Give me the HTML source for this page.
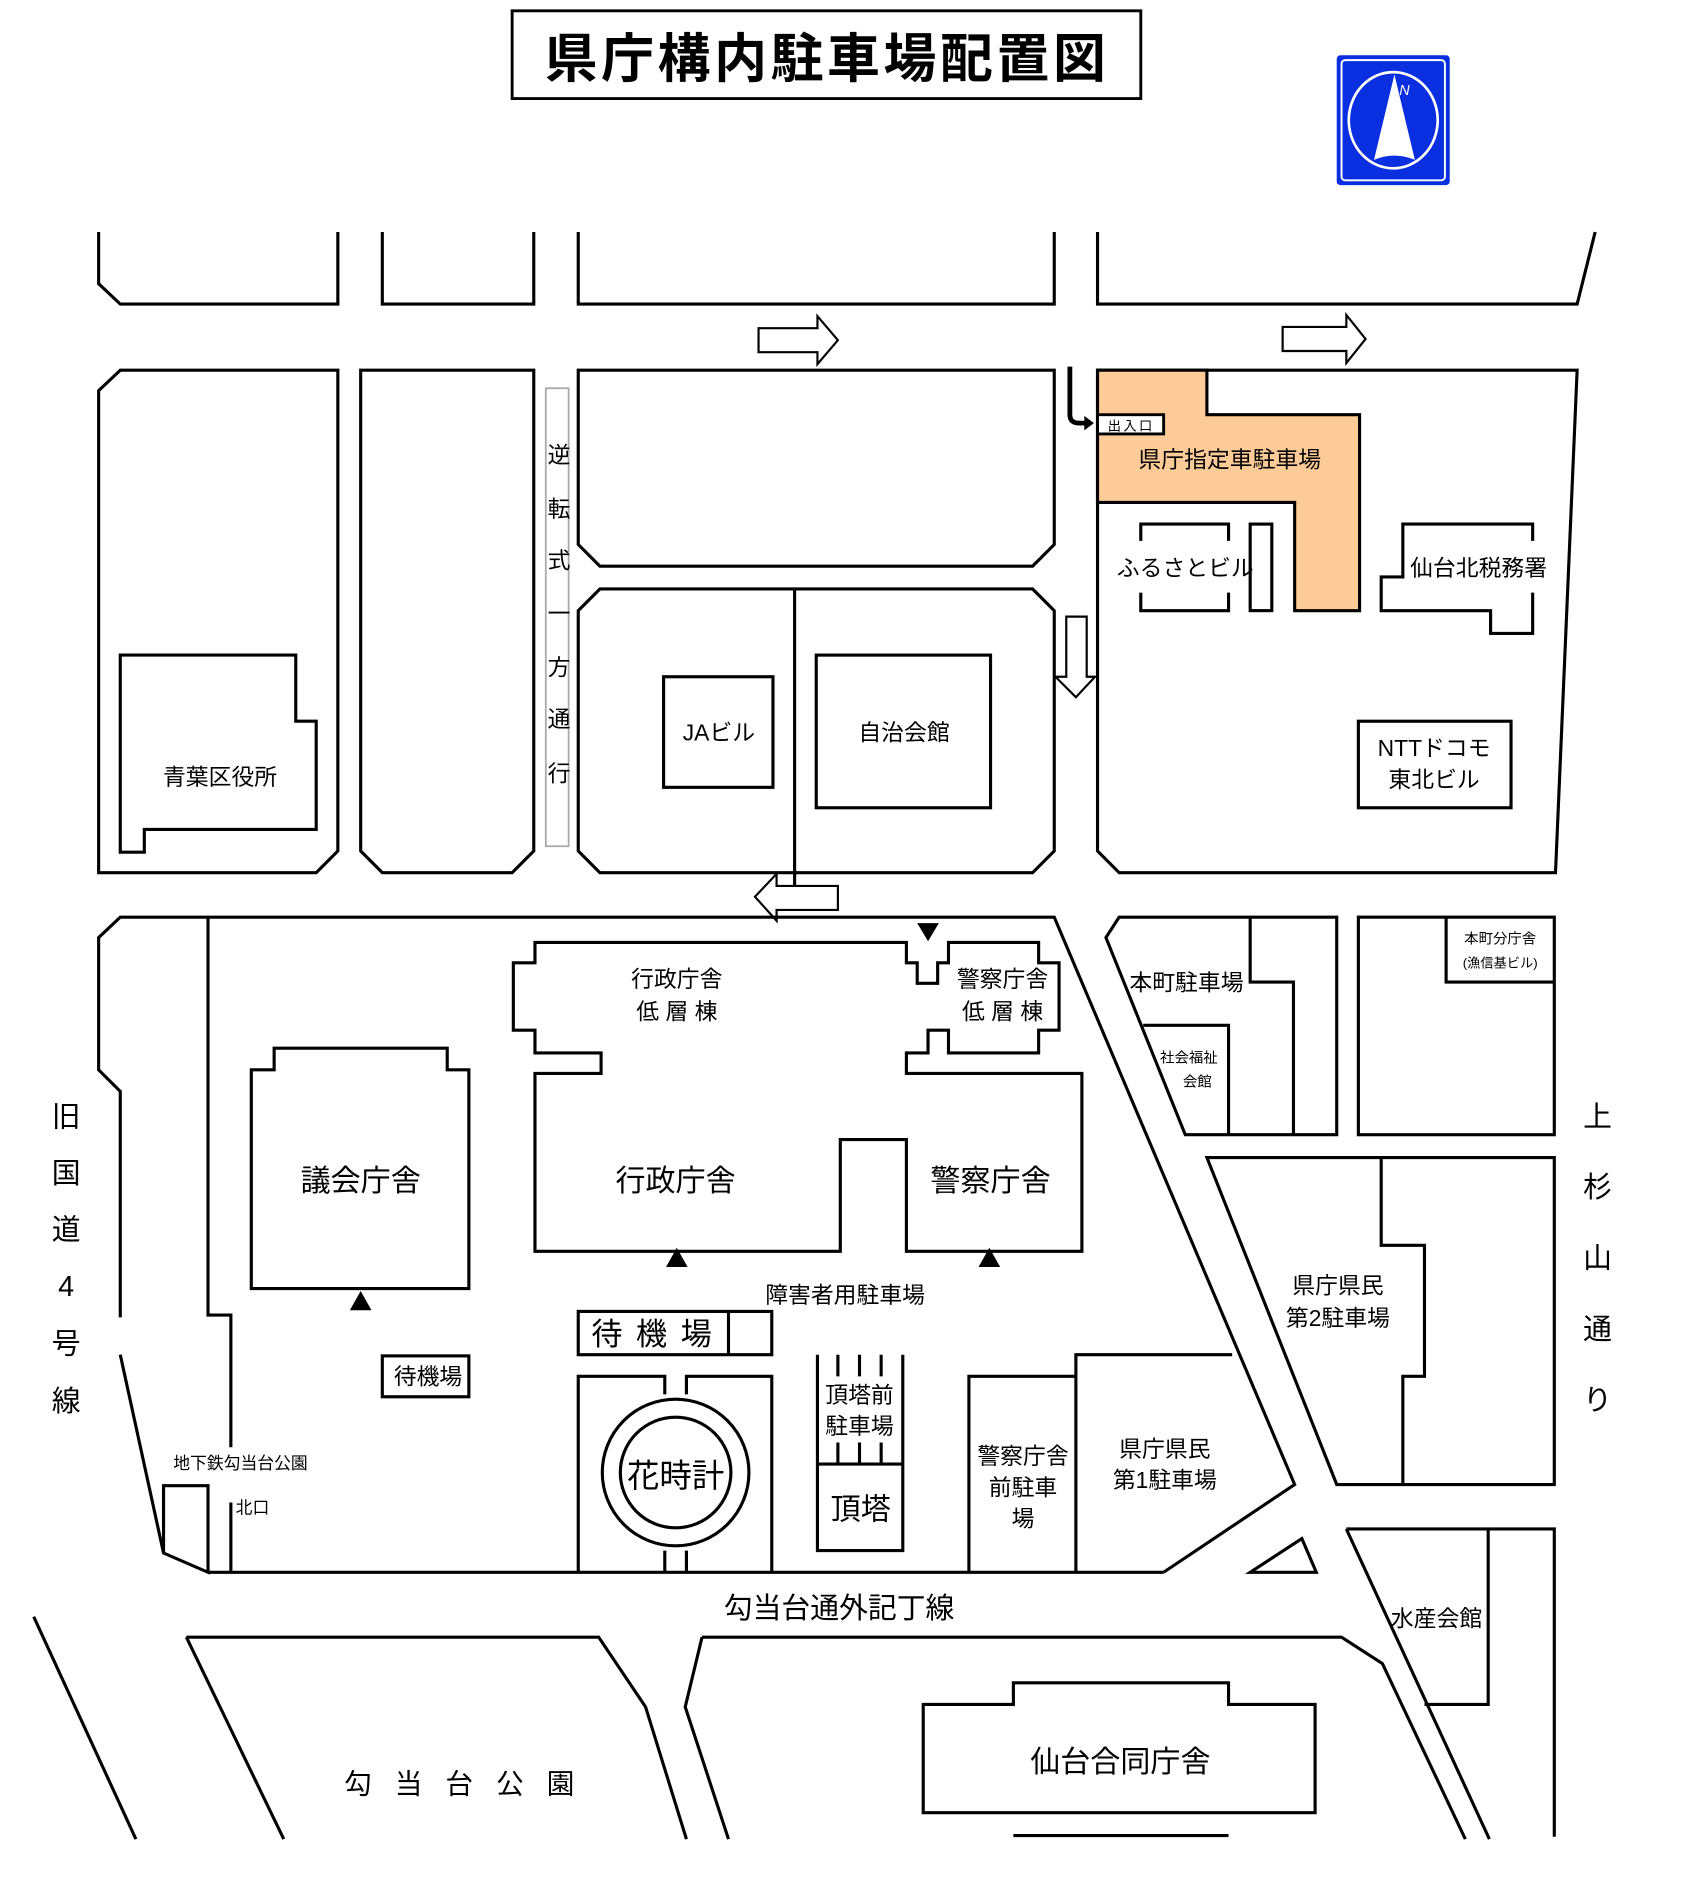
<!DOCTYPE html>
<html><head><meta charset="utf-8">
<style>
html,body{margin:0;padding:0;background:#fff;}
svg{display:block;}
text{font-family:"Liberation Sans","Noto Sans CJK JP",sans-serif;}
</style></head>
<body>
<svg width="1695" height="1892" viewBox="0 0 1410 1574" xmlns="http://www.w3.org/2000/svg">
<g fill="none" stroke="#000" stroke-width="2.6" stroke-linejoin="miter">
<rect x="426" y="9" width="523" height="73" stroke-width="2.4"/>
<path d="M82,193 V236 L100,253 H281 V193"/>
<path d="M318,193 V253 H444 V193"/>
<path d="M481,193 V253 H877 V193"/>
<path d="M913,193 V253 H1312 L1327,193"/>
<path d="M631,273 H680 V263 L697,283 L680,303 V293 H631 Z" stroke-width="1.8"/>
<path d="M1067,272 H1120 V262 L1136,282 L1120,302 V292 H1067 Z" stroke-width="1.8"/>
<path d="M100,308 L82,325 V726 H263 L281,708 V308 Z"/>
<path d="M100,545 H246 V600 H263 V690 H120 V709 H100 Z"/>
<path d="M300,308 V708 L318,726 H426 L444,708 V308 Z"/>
<path d="M481,308 V453 L499,471 H859 L877,453 V308 Z"/>
<path d="M499,490 L481,508 V708 L499,726 H859 L877,708 V508 L859,490 Z"/>
<path d="M661,490 V748"/>
<rect x="552" y="563" width="91" height="92"/>
<rect x="679" y="545" width="145" height="127"/>
<path d="M887,513 H904 V563 H911 L895,580 L878,563 H887 Z" stroke-width="1.8" fill="#fff"/>
<path d="M697,737 H646 V727 L628,746 L646,766 V757 H697 Z" stroke-width="1.8" fill="#fff"/>
<path d="M913,308 V708 L931,726 H1294 L1312,308 Z"/>
</g>
<rect x="454" y="323" width="19" height="381" fill="none" stroke="#aaa" stroke-width="1.5"/>
<path d="M913,308 H1004 V345 H1131 V508 H1077 V418 H913 Z" fill="#fccb97" stroke="#000" stroke-width="2.6"/>
<rect x="913" y="345" width="55" height="16" fill="#fff" stroke="#000" stroke-width="2.4"/>
<path d="M890,305 V345 Q890,352 898,352 H904" fill="none" stroke="#000" stroke-width="4"/>
<path d="M902,346 L910,352 L902,358 Z" fill="#000"/>
<g fill="none" stroke="#000" stroke-width="2.6">
<path d="M949,450 V436 H1022 V450 M949,493 V508 H1022 V493"/>
<rect x="1040" y="436" width="18" height="72"/>
<path d="M1149,492 V480 H1167 V436 H1275 V450 M1275,493 V527 H1240 V508 H1149 V492"/>
<rect x="1130" y="600" width="127" height="72"/>
<path d="M136,1292 L100,1127"/>
<path d="M100,1096 V908 L82,890 V780 L100,763 H877 L1077,1235 L968,1308"/>
<path d="M173,763 V1094 H192 V1204 M192,1250 V1308"/>
<path d="M136,1236 H173 V1308 L136,1292 Z"/>
<path d="M173,1308 H968"/>
<path d="M445,784 H754 V801 H763 V818 H780 V801 H789 V784 H864 V801 H881 V857 H864 V876 H789 V857 H772 V876 H754 V893 H900 V1041 H754 V948 H699 V1041 H445 V893 H500 V876 H445 V857 H427 V801 H445 Z"/>
<path d="M228,872 H372 V890 H390 V1072 H209 V890 H228 Z"/>
<rect x="318" y="1128" width="72" height="34"/>
<rect x="481" y="1091" width="161" height="36"/>
<path d="M606,1091 V1127"/>
<path d="M553,1160 V1145 H481 V1308 M553,1290 V1308"/>
<path d="M571,1160 V1145 H642 V1308 M571,1290 V1308"/>
<circle cx="562" cy="1225" r="61" fill="#fff"/>
<circle cx="562" cy="1225" r="46"/>
<path d="M680,1127 V1290 H751 V1218 H680 M751,1127 V1218"/>
<path d="M697,1127 V1145 M715,1127 V1145 M733,1127 V1145 M697,1200 V1218 M715,1200 V1218 M733,1200 V1218"/>
<path d="M806,1308 V1145 H895 V1308 M895,1145 V1127 H1025"/>
<path d="M1040,1308 L1083,1280 L1095,1308 Z"/>
<path d="M931,763 L920,780 L986,944 H1112 V763 Z"/>
<path d="M1040,763 V817 H1076 V944"/>
<path d="M951,853 H1022 V944"/>
<rect x="1130" y="763" width="163" height="181"/>
<path d="M1203,763 V817 H1293"/>
<path d="M1004,963 H1293 V1235 H1112 Z"/>
<path d="M1149,963 V1036 H1185 V1145 H1167 V1235"/>
<path d="M1120,1272 H1293 V1528 M1120,1272 L1239,1530"/>
<path d="M1238,1272 V1418 H1185"/>
<path d="M584,1362 H1116 L1150,1384 L1219,1530"/>
<path d="M584,1362 L570,1420 L606,1530"/>
<path d="M155,1362 H498 L537,1420 L571,1530"/>
<path d="M155,1362 L236,1530"/>
<path d="M28,1345 L113,1530"/>
<path d="M768,1418 H843 V1400 H1022 V1418 H1094 V1508 H768 Z"/>
<path d="M843,1527 H1022"/>
</g>
<g fill="#000">
<path d="M300,1074 L309,1090 L291,1090 Z"/>
<path d="M563,1038 L572,1054 L554,1054 Z"/>
<path d="M823,1038 L832,1054 L814,1054 Z"/>
<path d="M763,768 L781,768 L772,783 Z"/>
</g>
<rect x="1112" y="46" width="94" height="108" rx="3" fill="#0a2fe0"/>
<rect x="1116" y="50" width="86" height="100" rx="3" fill="none" stroke="#fff" stroke-width="1.6"/>
<ellipse cx="1159" cy="100" rx="37" ry="40" fill="none" stroke="#fff" stroke-width="2.2"/>
<path d="M1160,62 L1177,133 Q1160,126 1143,133 Z" fill="#fff"/>
<text x="1164" y="79" font-size="12" font-style="italic" fill="#fff">N</text>
<g fill="#000">
<text x="688" y="64" font-size="44" text-anchor="middle" letter-spacing="3" font-weight="bold">県庁構内駐車場配置図</text>
<g font-size="19" text-anchor="middle">
<text x="465" y="385">逆</text><text x="465" y="430">転</text><text x="465" y="473">式</text><text x="465" y="517">一</text><text x="465" y="562">方</text><text x="465" y="605">通</text><text x="465" y="650">行</text>
</g>
<g font-size="19" text-anchor="middle">
<text x="183" y="653">青葉区役所</text>
<text x="598" y="616">JAビル</text>
<text x="752" y="616">自治会館</text>
<text x="1023" y="389">県庁指定車駐車場</text>
<text x="986" y="479">ふるさとビル</text>
<text x="1230" y="479">仙台北税務署</text>
<text x="1193" y="629">NTTドコモ</text>
<text x="1193" y="655">東北ビル</text>
<text x="563" y="821">行政庁舎</text>
<text x="563" y="848">低 層 棟</text>
<text x="834" y="821">警察庁舎</text>
<text x="834" y="848">低 層 棟</text>
<text x="987" y="824">本町駐車場</text>
<text x="703" y="1084">障害者用駐車場</text>
<text x="1113" y="1076">県庁県民</text>
<text x="1113" y="1103">第2駐車場</text>
<text x="969" y="1212">県庁県民</text>
<text x="969" y="1238">第1駐車場</text>
<text x="851" y="1218">警察庁舎</text>
<text x="851" y="1244">前駐車</text>
<text x="851" y="1270">場</text>
<text x="715" y="1167">頂塔前</text>
<text x="715" y="1193">駐車場</text>
<text x="356" y="1152">待機場</text>
<text x="1195" y="1353">水産会館</text>
</g>
<g font-size="12" text-anchor="middle">
<text x="941" y="358" font-size="11" letter-spacing="2">出入口</text>
<text x="989" y="884">社会福祉</text>
<text x="996" y="904">会館</text>
<text x="1248" y="785">本町分庁舎</text>
<text x="1248" y="805" font-size="11">(漁信基ビル)</text>
<text x="200" y="1222" font-size="14">地下鉄勾当台公園</text>
<text x="210" y="1259" font-size="14">北口</text>
</g>
<g font-size="25" text-anchor="middle">
<text x="300" y="991">議会庁舎</text>
<text x="562" y="991">行政庁舎</text>
<text x="824" y="991">警察庁舎</text>
<text x="543" y="1119" font-size="26" letter-spacing="2" xml:space="preserve">待 機 場</text>
<text x="562" y="1237" font-size="27">花時計</text>
<text x="716" y="1264">頂塔</text>
<text x="698" y="1346" font-size="24">勾当台通外記丁線</text>
<text x="932" y="1474">仙台合同庁舎</text>
<text x="382" y="1492" font-size="23" xml:space="preserve">勾   当   台   公   園</text>
</g>
<g font-size="24" text-anchor="middle">
<text x="55" y="937">旧</text><text x="55" y="984">国</text><text x="55" y="1031">道</text><text x="55" y="1078">4</text><text x="55" y="1126">号</text><text x="55" y="1174">線</text>
<text x="1329" y="937">上</text><text x="1329" y="996">杉</text><text x="1329" y="1055">山</text><text x="1329" y="1114">通</text><text x="1329" y="1173">り</text>
</g>
</g>
</svg>
</body></html>
